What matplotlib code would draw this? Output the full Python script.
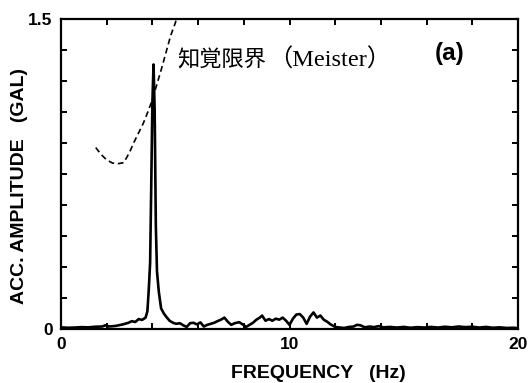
import matplotlib
matplotlib.use("Agg")
import matplotlib.pyplot as plt
import numpy as np

plt.rcParams["font.family"] = ["Liberation Sans", "DejaVu Sans"]

# acceleration Fourier spectrum (GAL) vs frequency (Hz)
freq = [0.0, 0.3, 0.6, 0.9, 1.2, 1.5, 1.8, 1.95, 2.1, 2.4, 2.7, 2.95, 3.1, 3.25,
        3.4, 3.55, 3.7, 3.78, 3.84, 3.9, 3.95, 4.0, 4.05, 4.1, 4.15, 4.2, 4.28,
        4.38, 4.5, 4.6, 4.75, 4.9, 5.05, 5.2, 5.35, 5.5, 5.65, 5.8, 5.95, 6.1,
        6.25, 6.4, 6.55, 6.7, 6.85, 7.0, 7.15, 7.3, 7.45, 7.6, 7.8, 7.95, 8.1,
        8.25, 8.4, 8.55, 8.7, 8.8, 8.95, 9.1, 9.25, 9.4, 9.55, 9.7, 9.85, 10.0,
        10.15, 10.3, 10.45, 10.6, 10.75, 10.9, 11.05, 11.2, 11.35, 11.5, 11.65,
        11.8, 12.0, 12.2, 12.4, 12.6, 12.8, 12.95, 13.1, 13.3, 13.5, 13.7, 13.9,
        14.1, 14.4, 14.7, 15.0, 15.3, 15.6, 15.9, 16.2, 16.5, 16.8, 17.1, 17.4,
        17.7, 18.0, 18.3, 18.6, 18.9, 19.2, 19.5, 19.8, 20.0]
amp = [0.008, 0.006, 0.007, 0.009, 0.008, 0.011, 0.012, 0.018, 0.012, 0.015,
       0.022, 0.030, 0.038, 0.034, 0.048, 0.044, 0.055, 0.085, 0.19, 0.32,
       0.70, 1.10, 1.28, 1.05, 0.50, 0.28, 0.18, 0.10, 0.075, 0.06, 0.04, 0.03,
       0.025, 0.028, 0.018, 0.010, 0.028, 0.030, 0.022, 0.032, 0.012, 0.020,
       0.025, 0.030, 0.038, 0.045, 0.055, 0.035, 0.020, 0.028, 0.033, 0.022,
       0.010, 0.020, 0.030, 0.045, 0.055, 0.065, 0.040, 0.048, 0.040, 0.050,
       0.045, 0.055, 0.040, 0.020, 0.050, 0.070, 0.072, 0.055, 0.025, 0.060,
       0.080, 0.055, 0.065, 0.045, 0.035, 0.022, 0.010, 0.007, 0.005, 0.010,
       0.012, 0.020, 0.018, 0.008, 0.012, 0.009, 0.014, 0.008, 0.010, 0.007,
       0.010, 0.006, 0.009, 0.007, 0.010, 0.007, 0.011, 0.008, 0.012, 0.009,
       0.011, 0.007, 0.010, 0.006, 0.008, 0.005, 0.006, 0.004]

# perception threshold (Meister)
meister_f = [1.52, 1.75, 2.0, 2.25, 2.5, 2.75, 3.0, 3.2, 3.4, 3.6, 3.8, 4.0,
             4.2, 4.4, 4.6, 4.8, 5.0, 5.2]
meister_a = [0.878, 0.845, 0.818, 0.803, 0.800, 0.805, 0.855, 0.905, 0.95,
             0.995, 1.05, 1.11, 1.185, 1.26, 1.34, 1.42, 1.48, 1.56]

fig = plt.figure(figsize=(5.30, 3.83), dpi=100)
ax = fig.add_axes([0.1151, 0.141, 0.8623, 0.8094])

ax.plot(freq, amp, color="black", lw=1.9, solid_joinstyle="round")
ax.plot(meister_f, meister_a, color="black", lw=1.2, dashes=(3.5, 2.2))

ax.set_xlim(0, 20)
ax.set_ylim(0, 1.5)

xt = np.arange(0, 21, 2)
ax.set_xticks(xt)
ax.set_xticklabels([str(v) if v % 10 == 0 else "" for v in xt])
yt = np.linspace(0, 1.5, 11)
ax.set_yticks(yt)
ax.set_yticklabels(["0"] + [""] * 9 + ["1.5"])
ax.tick_params(direction="in", length=4.5, width=1.4, top=True, right=True,
               labelsize=12.5, pad=6)
for lab in ax.get_xticklabels() + ax.get_yticklabels():
    lab.set_fontweight("bold")
for s in ax.spines.values():
    s.set_linewidth(1.6)

# axis titles placed in figure coordinates
fig.text(318 / 530, 1 - 374 / 383, "FREQUENCY   (Hz)", fontsize=14,
         fontweight="bold", ha="center", va="center")
fig.text(20 / 530, 1 - 186 / 383, "ACC. AMPLITUDE   (GAL)", fontsize=14,
         fontweight="bold", ha="center", va="center", rotation=90)

ax.text(5.1, 1.30, "知覚限界", fontsize=16,
        family=["Noto Sans CJK JP"], va="center", ha="left")
ax.text(9.05, 1.30, "（Meister）", fontsize=17.5,
        family=["Liberation Serif", "Noto Sans CJK JP"], va="center", ha="left")
ax.text(16.35, 1.335, "(a)", fontsize=17.5, fontweight="bold", va="center", ha="left")

fig.savefig("out.png", dpi=100, facecolor="white")
